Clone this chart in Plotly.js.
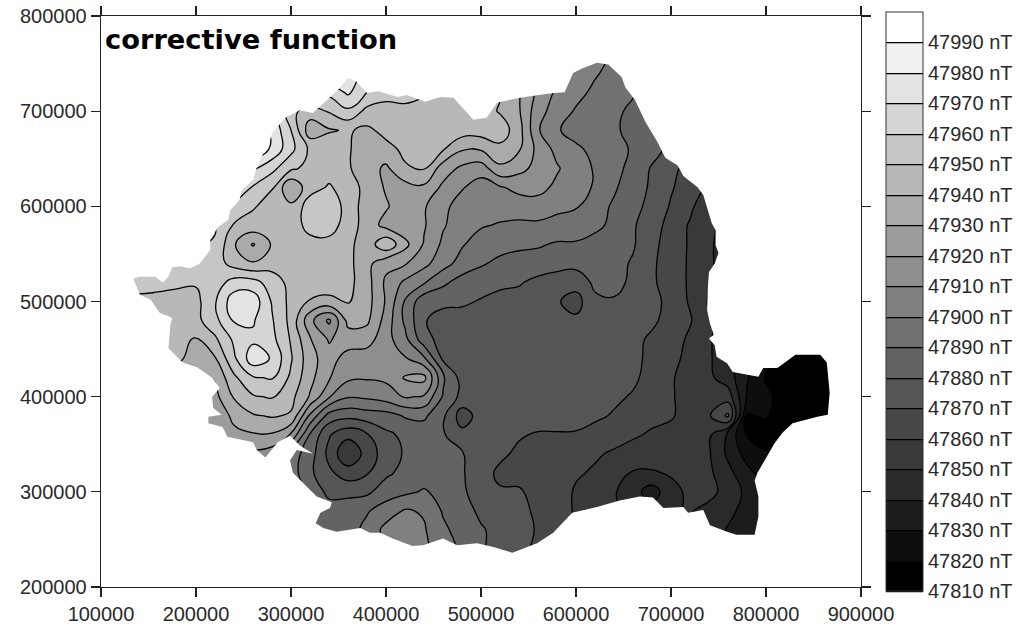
<!DOCTYPE html>
<html>
<head>
<meta charset="utf-8">
<script src="https://cdn.plot.ly/plotly-3.0.1.min.js"></script>
<style>html,body{margin:0;padding:0;background:#fff}#chart{width:1028px;height:624px}</style>
</head>
<body>
<div id="chart"></div>
<script>
var xGrid = [120000,140000,160000,180000,200000,220000,240000,260000,280000,300000,320000,340000,360000,380000,400000,420000,440000,460000,480000,500000,520000,540000,560000,580000,600000,620000,640000,660000,680000,700000,720000,740000,760000,780000,800000,820000,840000,860000,880000];
var yGrid = [760000,740000,720000,700000,680000,660000,640000,620000,600000,580000,560000,540000,520000,500000,480000,460000,440000,420000,400000,380000,360000,340000,320000,300000,280000,260000,240000,220000];
var fieldBase = 47800;
var fieldAboveBase = [
[160,160,160,165,170,175,180,185,188,188,185,182,180,175,165,155,150,148,146,145,142,135,120,112,108,104,99,96,89,85,80,75,70,65,60,55,50,45,40],
[160,160,160,165,170,175,180,185,188,188,185,182,180,165,156,151,147,146,145,144,142,134,122,112,106,101,97,93,89,85,80,75,70,65,60,55,50,45,40],
[160,160,160,165,170,175,180,185,185,175,165,163,172,160,154,153,151,148,147,146,141,131,118,108,103,98,95,91,85,80,75,70,65,60,55,50,45,42,40],
[160,160,160,165,170,175,180,182,175,153,145,151,158,147,146,148,147,146,145,145,139,131,114,105,99,95,92,88,85,78,72,68,62,58,52,48,44,42,40],
[160,160,160,165,170,175,182,190,178,160,134,139,141,138,143,145,145,145,145,145,146,134,111,101,96,93,91,88,85,78,72,66,60,55,50,46,43,41,40],
[160,160,160,165,172,180,190,190,178,163,148,146,141,135,137,142,145,141,131,131,137,131,117,107,102,97,93,89,84,77,71,64,58,54,50,46,43,41,40],
[160,160,160,165,172,178,185,172,163,152,147,146,141,135,128,139,141,125,118,115,128,123,117,111,105,99,93,87,79,73,66,61,55,50,46,43,41,40,40],
[160,160,160,165,172,175,171,159,151,131,146,151,146,136,129,126,128,118,111,105,109,113,113,108,104,99,91,86,78,71,65,58,53,48,45,43,41,40,40],
[160,160,160,165,170,170,158,151,146,142,155,157,146,135,131,125,121,113,105,102,105,105,106,103,101,93,89,83,77,69,62,53,48,45,42,40,40,40,40],
[158,158,158,161,165,161,149,146,146,147,152,154,146,135,127,123,121,111,105,101,99,98,98,96,95,92,88,81,75,66,59,52,47,44,42,40,40,40,40],
[155,155,155,157,161,159,141,129,141,146,148,147,143,134,148,133,119,108,101,95,93,92,91,89,89,87,84,81,73,65,59,51,47,44,42,40,40,40,40],
[155,155,155,155,155,155,146,141,146,147,148,147,143,133,123,121,113,104,96,91,88,86,86,83,83,84,83,79,72,64,59,51,47,44,42,40,40,40,40],
[155,153,153,152,151,155,164,164,155,147,147,146,143,134,118,108,101,92,86,85,82,81,77,76,74,82,83,78,72,64,59,51,47,44,42,40,40,40,40],
[145,148,147,146,147,159,176,176,159,147,139,137,141,134,119,99,83,83,82,79,77,76,75,71,66,78,79,77,74,66,59,49,47,44,42,40,40,40,40],
[145,145,145,144,147,157,171,171,161,147,123,108,133,132,116,98,81,75,75,75,74,73,72,72,72,75,76,76,72,66,61,51,46,44,42,40,40,40,40],
[145,145,145,143,139,148,162,168,163,149,131,119,125,124,114,103,84,76,75,75,75,75,75,75,75,75,75,73,68,65,58,51,45,42,40,40,40,40,40],
[145,145,145,142,136,139,158,176,169,151,134,124,116,115,113,111,102,78,75,75,75,75,75,75,75,75,74,72,68,63,57,51,45,32,22,14,13,13,12],
[140,140,138,135,128,131,148,159,161,148,133,121,112,111,112,121,123,92,76,75,75,75,75,75,75,75,75,72,66,61,56,52,45,31,19,15,13,12,12],
[135,135,135,131,128,127,141,149,151,143,129,111,101,102,105,111,109,89,77,75,75,75,75,75,75,74,72,69,66,61,56,54,55,29,22,16,14,13,12],
[131,131,128,125,122,121,133,139,141,139,108,86,83,85,86,91,92,82,65,74,75,75,75,75,74,72,69,65,62,61,56,59,72,19,21,14,12,12,12],
[125,125,125,122,121,121,127,129,129,119,89,71,63,69,78,82,84,81,73,73,73,71,69,69,69,66,63,61,59,57,56,52,38,19,15,14,13,12,12],
[118,118,118,118,118,118,118,118,115,95,85,67,51,64,75,81,84,83,81,73,72,68,67,65,64,61,59,57,55,55,55,51,38,26,21,19,18,15,15],
[115,115,115,115,115,115,112,112,111,95,82,72,65,69,78,83,85,84,81,74,68,67,65,63,61,59,55,49,49,51,54,52,43,33,25,19,18,15,15],
[111,111,111,111,111,111,111,111,111,95,88,77,77,78,85,88,91,87,82,74,71,71,67,64,59,55,51,44,35,47,52,54,45,38,31,25,19,18,15],
[99,99,99,99,99,99,99,99,99,99,85,85,86,89,95,101,99,89,84,78,74,73,68,64,59,52,51,47,45,48,51,46,43,36,31,25,21,18,15],
[85,85,85,85,85,85,85,85,85,85,85,85,85,93,103,107,101,92,86,81,77,74,69,65,59,55,49,48,46,46,48,46,39,35,33,25,19,18,15],
[85,85,85,85,85,85,85,85,85,85,85,85,85,85,99,108,102,95,88,81,77,73,68,65,58,55,49,48,46,46,48,46,39,35,33,25,19,18,15],
[85,85,85,85,85,85,85,85,85,85,85,85,85,85,99,108,102,95,88,81,77,73,68,65,58,55,49,48,46,46,48,46,39,35,33,25,19,18,15]
];
var outlineX = [134,141,152,162,175,173,171,186,201,217,225,217,218,227,213,213,228,233,260,264,273,286,299,309,323,306,299,302,313,327,343,341,331,326,334,348,373,383,394,407,428,439,460,475,496,513,533,559,576,586,596,622,646,667,681,692,713,718,734,741,759,769,788,792,792,788,791,809,818,828,854,865,867,864,857,831,812,797,792,765,759,748,746,740,745,741,738,739,740,746,750,747,747,743,734,728,713,707,694,686,673,662,652,648,634,622,607,597,588,576,541,517,506,492,481,471,457,441,422,412,392,380,369,360,349,338,323,309,294,280,276,271,264,260,248,246,236,234,223,215,215,204,194,183,175,171,165,157,152,140].map(function(v){return v*1000;});
var outlineY = [524,507,502,488,483,475,451,436,431,420,409,400,388,381,379,372,368,358,352,344,336,352,359,349,340,344,333,320,309,295,289,283,278,267,262,258,262,257,257,251,243,244,251,244,246,242,236,246,257,268,278,284,291,295,294,283,284,278,281,265,258,255,255,274,295,312,320,351,363,372,379,381,404,436,444,444,430,430,421,426,435,442,454,461,465,477,491,519,531,540,551,559,575,582,612,620,632,643,651,667,689,712,725,736,749,751,745,740,720,719,714,709,693,691,703,714,715,710,717,715,721,719,731,735,722,712,698,701,693,677,662,656,641,628,617,607,596,586,578,565,554,540,535,537,536,526,520,526,526,526].map(function(v){return v*1000;});
var frameX = [100000,100000,900000,900000,100000];
var frameY = [200000,800000,800000,200000,200000];
var bandGrays = [0,14,28,42,57,71,85,99,113,128,142,156,170,184,198,213,227,241,255];
var levelStart = 47810, levelEnd = 47990, levelStep = 10, levelTop = 48000;
var legendTicks = [47810,47820,47830,47840,47850,47860,47870,47880,47890,47900,47910,47920,47930,47940,47950,47960,47970,47980,47990];
var mapLabel = 'corrective function';

var zField = fieldAboveBase.map(function(r){return r.map(function(v){return fieldBase+v;});});
var scale = [[0,'rgb(0,0,0)']];
bandGrays.forEach(function(g,i){
  if(i<bandGrays.length-1) scale.push([(i*levelStep+levelStep/2)/(levelEnd-levelStart),'rgb('+g+','+g+','+g+')']);
});
var topGray = bandGrays[bandGrays.length-1];
scale.push([1,'rgb('+topGray+','+topGray+','+topGray+')']);
var maskX = frameX.concat([null]).concat(outlineX).concat([outlineX[0]]);
var maskY = frameY.concat([null]).concat(outlineY).concat([outlineY[0]]);
var fontName = 'Liberation Sans, Arial, sans-serif';
var inkColor = '#2a2a2a';
var traces = [{
  type:'contour', x:xGrid, y:yGrid, z:zField, autocontour:false,
  zmin:levelStart, zmax:levelTop,
  contours:{start:levelStart,end:levelEnd,size:levelStep,coloring:'fill',showlines:true},
  line:{color:'#000',width:1.3,smoothing:1.3},
  colorscale:scale, hoverinfo:'skip',
  colorbar:{lenmode:'pixels',len:579,thicknessmode:'pixels',thickness:37,xanchor:'left',x:(886-101)/760,xpad:0,
    yanchor:'middle',y:0.5,ypad:0,outlinecolor:'#333',outlinewidth:1,
    tickmode:'array',tickvals:legendTicks,ticktext:legendTicks.map(function(v){return v+' nT';}),
    ticks:'',ticklen:0,tickfont:{family:fontName,size:20,color:inkColor}}
},{
  type:'scatter', mode:'lines', x:maskX, y:maskY, fill:'toself', fillcolor:'#fff',
  line:{width:0,color:'#fff'}, hoverinfo:'skip', showlegend:false
}];
var axisBase = {showgrid:false,zeroline:false,showline:true,linecolor:'#222',linewidth:1.3,mirror:'ticks',ticks:'outside',ticklen:9,tickwidth:1.3,tickcolor:'#222',
  dtick:100000,tickformat:'d',tickfont:{family:fontName,size:20,color:inkColor}};
var layout = {
  width:1028,height:624,margin:{l:101,r:167,t:16,b:37,pad:0},paper_bgcolor:'#fff',plot_bgcolor:'#fff',showlegend:false,
  xaxis:Object.assign({range:[100000,900000],tick0:100000},axisBase),
  yaxis:Object.assign({range:[200000,800000],tick0:200000},axisBase),
  annotations:[{text:'<b>'+mapLabel+'</b>',xref:'paper',yref:'paper',x:(103-101)/760,y:(587-40)/571,xanchor:'left',yanchor:'middle',showarrow:false,
    font:{family:'DejaVu Sans',size:27.3,color:'#000'}}]
};
Plotly.newPlot('chart',traces,layout,{displayModeBar:false,staticPlot:true});
</script>
</body>
</html>
